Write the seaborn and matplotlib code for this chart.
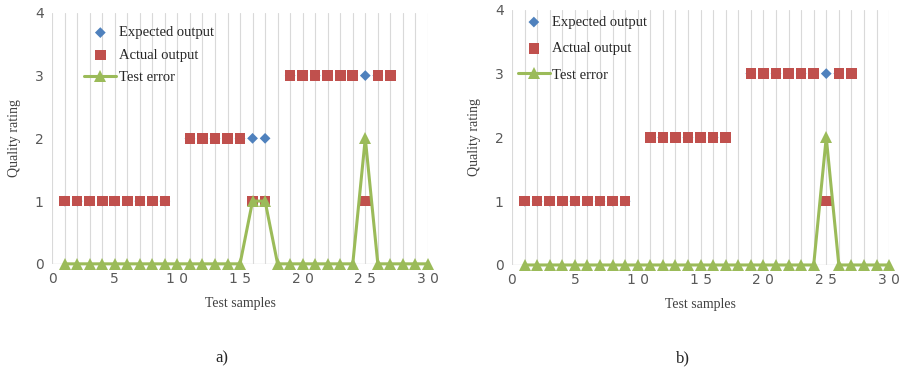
"""
Expected vs actual quality rating on 30 test samples, two model variants (a, b).
"""

import numpy as np
import pandas as pd
import matplotlib
matplotlib.use("Agg")
import matplotlib.pyplot as plt
import seaborn as sns


# =============================================
# DATA
# =============================================

samples = list(range(1, 31))

# panel a)
expected_a = [1, 1, 1, 1, 1, 1, 1, 1, 1, None,
              2, 2, 2, 2, 2, 2, 2, None,
              3, 3, 3, 3, 3, 3, 3, 3, 3, None, None, None]
actual_a = [1, 1, 1, 1, 1, 1, 1, 1, 1, None,
            2, 2, 2, 2, 2, 1, 1, None,
            3, 3, 3, 3, 3, 3, 1, 3, 3, None, None, None]
error_a = [0, 0, 0, 0, 0, 0, 0, 0, 0, 0,
           0, 0, 0, 0, 0, 1, 1, 0, 0, 0,
           0, 0, 0, 0, 2, 0, 0, 0, 0, 0]

# panel b)
expected_b = [1, 1, 1, 1, 1, 1, 1, 1, 1, None,
              2, 2, 2, 2, 2, 2, 2, None,
              3, 3, 3, 3, 3, 3, 3, 3, 3, None, None, None]
actual_b = [1, 1, 1, 1, 1, 1, 1, 1, 1, None,
            2, 2, 2, 2, 2, 2, 2, None,
            3, 3, 3, 3, 3, 3, 1, 3, 3, None, None, None]
error_b = [0, 0, 0, 0, 0, 0, 0, 0, 0, 0,
           0, 0, 0, 0, 0, 0, 0, 0, 0, 0,
           0, 0, 0, 0, 2, 0, 0, 0, 0, 0]

x_ticks = [0, 5, 10, 15, 20, 25, 30]
x_tick_labels = ["0", "5", "1 0", "1 5", "2 0", "2 5", "3 0"]
y_ticks = [0, 1, 2, 3, 4]

BLUE = "#4F81BD"
RED = "#C0504D"
GREEN = "#9BBB59"
GRID = "#D9D9D9"
TICK = "#595959"

sns.set_style("white")
plt.rcParams["font.family"] = ["Liberation Serif", "DejaVu Serif"]


# =============================================
# PLOT
# =============================================

def draw_panel(ax, expected, actual, error, legend_anchor, spacing):
    df = pd.DataFrame({
        "sample": samples,
        "expected": pd.array(expected, dtype="Float64").astype(float),
        "actual": pd.array(actual, dtype="Float64").astype(float),
        "error": error,
    })

    # vertical grid at every sample
    for xv in range(0, 31):
        ax.axvline(xv, color=GRID, lw=0.8, zorder=0)
    ax.axhline(0, color=GRID, lw=1.0, zorder=0)

    sns.scatterplot(data=df, x="sample", y="expected", ax=ax, marker="D",
                    s=30, color=BLUE, edgecolor="none", label="Expected output",
                    zorder=3, clip_on=False)
    sns.scatterplot(data=df, x="sample", y="actual", ax=ax, marker="s",
                    s=58, color=RED, edgecolor="none", label="Actual output",
                    zorder=4, clip_on=False)
    sns.lineplot(data=df, x="sample", y="error", ax=ax, color=GREEN, lw=2.2,
                 marker="^", markersize=8.5, markeredgecolor=GREEN,
                 markeredgewidth=0, label="Test error", zorder=5,
                 clip_on=False)

    ax.set_xlim(0, 30)
    ax.set_ylim(0, 4)
    ax.set_xticks(x_ticks)
    ax.set_xticklabels(x_tick_labels, fontsize=10, color=TICK,
                       family=["DejaVu Sans"])
    ax.set_yticks(y_ticks)
    ax.set_yticklabels([str(v) for v in y_ticks], fontsize=10, color=TICK,
                       family=["DejaVu Sans"])
    ax.tick_params(length=0, pad=6)
    for side in ["top", "right", "left", "bottom"]:
        ax.spines[side].set_visible(False)

    ax.set_xlabel("Test samples", fontsize=10, color="#404040", labelpad=8)
    ax.set_ylabel("Quality rating", fontsize=10, color="#404040", labelpad=10)

    ax.legend(loc="upper left", bbox_to_anchor=legend_anchor, frameon=False,
              fontsize=10.5, labelspacing=spacing, handlelength=2.2,
              handletextpad=0.15, borderaxespad=0)


fig = plt.figure(figsize=(8.99, 3.78), dpi=100)

ax_a = fig.add_axes([0.058, 0.302, 0.418, 0.664])
ax_b = fig.add_axes([0.5695, 0.299, 0.4195, 0.675])

draw_panel(ax_a, expected_a, actual_a, error_a, (0.07, 0.97), 0.62)
draw_panel(ax_b, expected_b, actual_b, error_b, (0.0, 1.0), 0.9)

fig.text(0.247, 0.04, "a)", fontsize=12, ha="center")
fig.text(0.76, 0.04, "b)", fontsize=12, ha="center")

fig.savefig("out.png", dpi=100)
plt.close(fig)
